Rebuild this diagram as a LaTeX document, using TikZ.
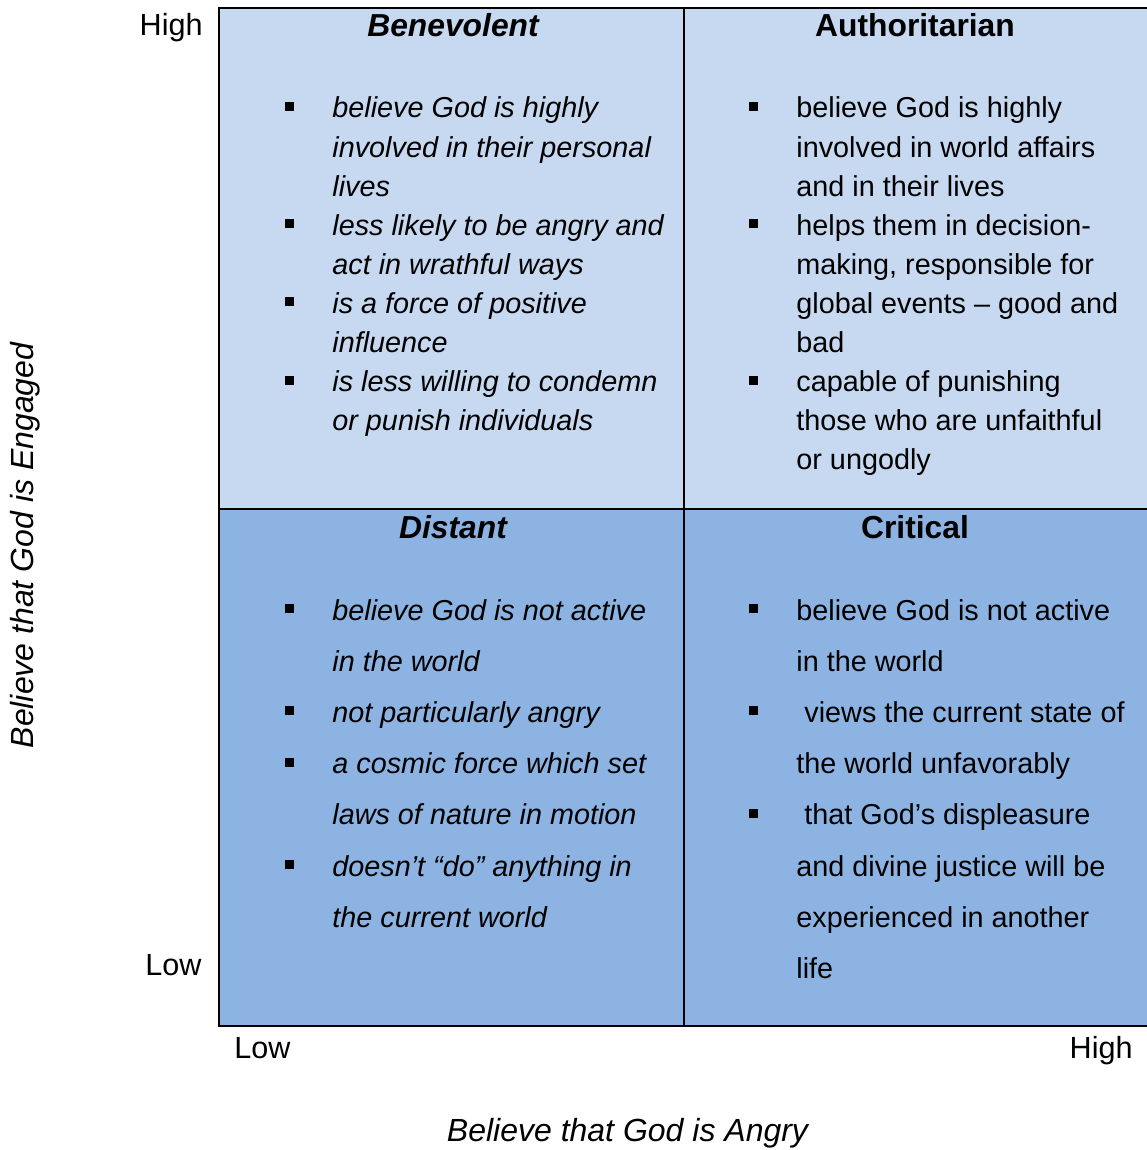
\documentclass[tikz,border=0pt]{standalone}
\usepackage{fontspec}
\setmainfont{Liberation Sans}
\definecolor{upperfill}{HTML}{C6D9F1}
\definecolor{lowerfill}{HTML}{8DB3E2}
\setlength{\parskip}{0pt}
% square list marker hung to the left of each entry
\newcommand{\sqbullet}{\rule[3.5pt]{4.5pt}{4.5pt}}
\newcommand{\entry}{\par\noindent\hangindent=23.5pt\hangafter=0\llap{\sqbullet\hspace{19pt}}}
% one quadrant's list, first baseline at the node's base
\newcommand{\quadlist}[1]{\parbox[t]{215pt}{#1\par}}
\tikzset{
  gridline/.style={line width=1.15pt, black},
  quadtext/.style={anchor=base west, inner sep=0pt},
  uppertext/.style={quadtext, font=\fontsize{14.4pt}{19.55pt}\selectfont},
  lowertext/.style={quadtext, font=\fontsize{14.4pt}{25.6pt}\selectfont},
  heading/.style={anchor=base, inner sep=0pt, font=\fontsize{15.9pt}{18pt}\selectfont\bfseries},
  level/.style={inner sep=0pt, font=\fontsize{15.3pt}{18pt}\selectfont},
  axistitle/.style={anchor=base, inner sep=0pt, font=\fontsize{16pt}{19pt}\selectfont\itshape},
}
\begin{document}
\begin{tikzpicture}[x=0.5pt, y=-0.5pt]
\useasboundingbox (0,0) rectangle (1146,1150);

% quadrant backgrounds
\fill[upperfill] (219,8) rectangle (1152,509);
\fill[lowerfill] (219,509) rectangle (1152,1026);

% grid
\coordinate (tl) at (219,8);
\coordinate (br) at (1151,1026);
\coordinate (mt) at (684,8);
\coordinate (mb) at (684,1026);
\coordinate (ml) at (219,509);
\coordinate (mr) at (1151,509);
\draw[gridline] (tl) rectangle (br);
\draw[gridline] (mt) -- (mb);
\draw[gridline] (ml) -- (mr);

% headings
\node[heading] (hben) at (453,37) {\itshape Benevolent};
\node[heading] (haut) at (915,37) {Authoritarian};
\node[heading] (hdis) at (453,538) {\itshape Distant};
\node[heading] (hcri) at (915,538) {Critical};

% quadrant contents
\node[uppertext] (qben) at (285,118) {\quadlist{\itshape
  \entry believe God is highly\newline involved in their personal\newline lives
  \entry less likely to be angry and\newline act in wrathful ways
  \entry is a force of positive\newline influence
  \entry is less willing to condemn\newline or punish individuals}};

\node[uppertext] (qaut) at (749,118) {\quadlist{
  \entry believe God is highly\newline involved in world affairs\newline and in their lives
  \entry helps them in decision-\newline making, responsible for\newline global events – good and\newline bad
  \entry capable of punishing\newline those who are unfaithful\newline or ungodly}};

\node[lowertext] (qdis) at (285,620) {\quadlist{\itshape
  \entry believe God is not active\newline in the world
  \entry not particularly angry
  \entry a cosmic force which set\newline laws of nature in motion
  \entry doesn’t “do” anything in\newline the current world}};

\node[lowertext] (qcri) at (749,620) {\quadlist{
  \entry believe God is not active\newline in the world
  \entry \ views the current state of\newline the world unfavorably
  \entry \ that God’s displeasure\newline and divine justice will be\newline experienced in another\newline life}};

% axis levels
\node[level, anchor=base east] (yhigh) at (203,36) {High};
\node[level, anchor=base east] (ylow) at (202,975) {Low};
\node[level, anchor=base west] (xlow) at (234,1058) {Low};
\node[level, anchor=base east] (xhigh) at (1133,1058) {High};

% axis titles
\node[axistitle] (xtitle) at (627.5,1141) {Believe that God is Angry};
\node[axistitle, rotate=90] (ytitle) at (33,545.5) {Believe that God is Engaged};
\end{tikzpicture}
\end{document}
